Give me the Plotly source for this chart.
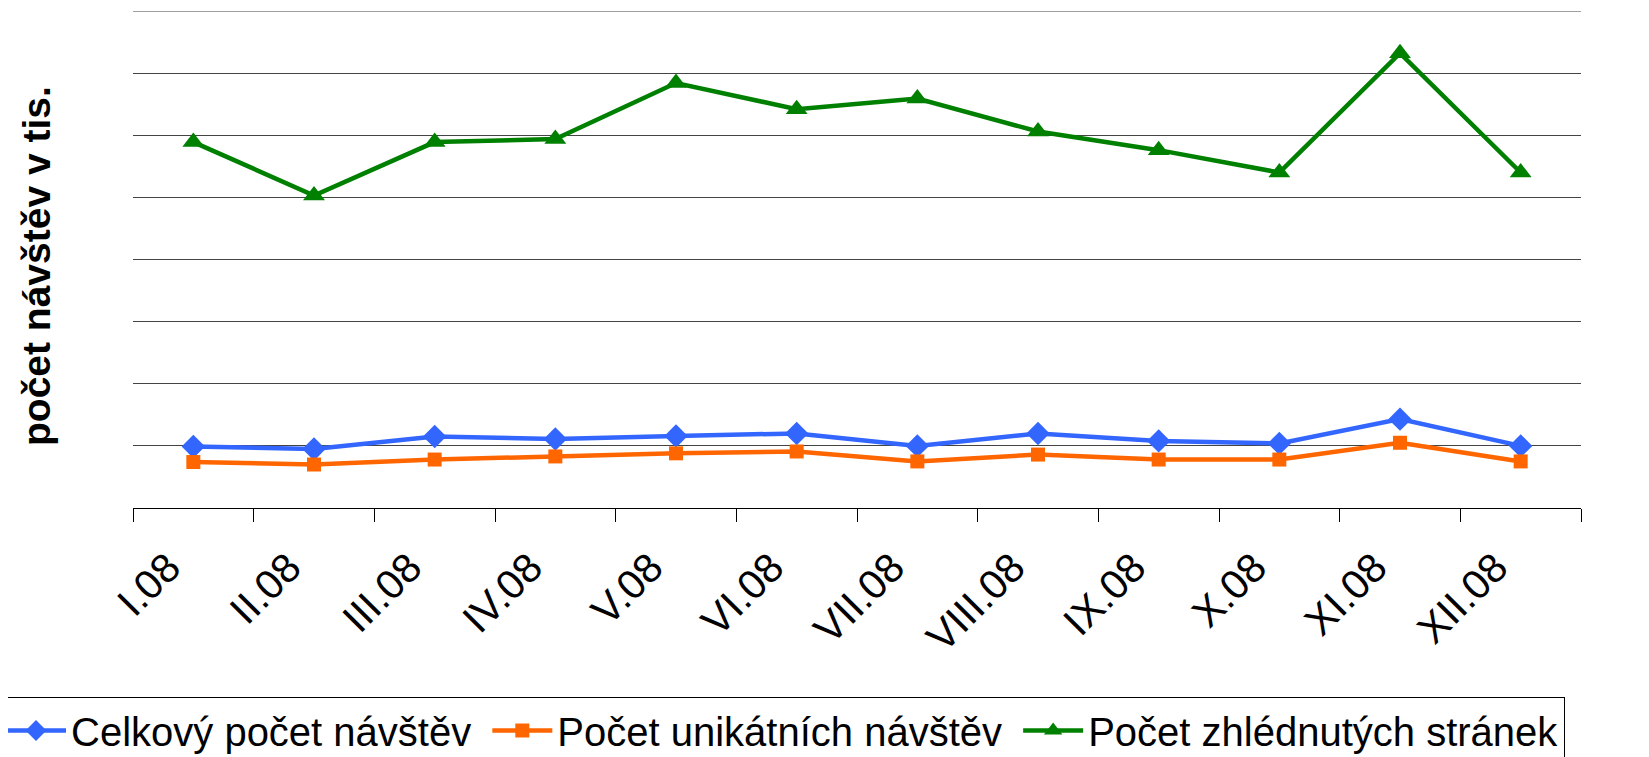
import plotly.graph_objects as go

months = ["I.08", "II.08", "III.08", "IV.08", "V.08", "VI.08", "VII.08",
          "VIII.08", "IX.08", "X.08", "XI.08", "XII.08"]
celkovy = [9.9, 9.5, 11.5, 11.1, 11.6, 12.0, 10.0, 12.0, 10.8, 10.4, 14.3, 10.0]
unikatni = [7.4, 7.0, 7.8, 8.3, 8.8, 9.1, 7.5, 8.6, 7.8, 7.8, 10.5, 7.5]
zhlednute = [58.9, 50.3, 58.9, 59.4, 68.4, 64.2, 65.9, 60.6, 57.6, 54.0, 73.2, 54.0]
series_names = ["Celkový počet návštěv", "Počet unikátních návštěv",
                "Počet zhlédnutých stránek"]
y_max = 80
y_step = 10

FONT = "Arial, Liberation Sans, sans-serif"
GAP = "\u00a0"  # extra spacing between legend entries

# page body has an 8px default margin; compensate so the plot lands where the reference is
OFF = 8
W, H = 1649 - OFF, 757 - OFF
L, T = 133 - OFF, 11 - OFF
R = W - (1581 - OFF)
B = H - (508 - OFF)
PW, PH = W - L - R, H - T - B

fig = go.Figure()
fig.add_trace(go.Scatter(x=months, y=celkovy, name=series_names[0] + GAP,
                         mode="lines+markers",
                         line=dict(color="#3366FF", width=4.5),
                         marker=dict(symbol="diamond", size=18, color="#3366FF")))
fig.add_trace(go.Scatter(x=months, y=unikatni, name=series_names[1] + GAP,
                         mode="lines+markers",
                         line=dict(color="#FF6600", width=4.5),
                         marker=dict(symbol="square", size=14, color="#FF6600")))
fig.add_trace(go.Scatter(x=months, y=zhlednute, name=series_names[2],
                         mode="lines+markers",
                         line=dict(color="#008000", width=4.5),
                         marker=dict(symbol="triangle-up", size=19, color="#008000")))

# top gridline (plotly omits the gridline at the range edge)
fig.add_shape(type="line", xref="paper", yref="y", x0=0, x1=1, y0=y_max, y1=y_max,
              line=dict(color="#444444", width=1), layer="below")

fig.update_layout(
    width=W, height=H,
    margin=dict(l=L, r=R, t=T, b=B, autoexpand=False),
    paper_bgcolor="white", plot_bgcolor="white",
    font=dict(family=FONT, color="black"),
    showlegend=True,
    legend=dict(orientation="h", xref="paper", yref="paper",
                x=(-OFF - L) / PW, xanchor="left",
                y=-((697 - OFF) - (T + PH)) / PH, yanchor="top",
                font=dict(size=40, family=FONT), bordercolor="black",
                borderwidth=1, bgcolor="white", itemwidth=60,
                tracegroupgap=0),
    xaxis=dict(type="category", tickson="boundaries", ticks="outside",
               range=[-0.5, len(months) - 0.5],
               ticklen=13, tickcolor="black", tickwidth=1,
               showline=True, linecolor="black", linewidth=1,
               showgrid=False, tickangle=-45, automargin=False,
               ticklabelstandoff=18, ticklabelshift=-25,
               tickfont=dict(size=41, family=FONT)),
    yaxis=dict(range=[0, y_max], dtick=y_step, showticklabels=False,
               showgrid=True, gridcolor="#444444", gridwidth=1,
               zeroline=False, showline=False, ticks="", automargin=False),
    annotations=[dict(text="<b>počet návštěv v tis.</b>", textangle=-90,
                      xref="paper", yref="paper", x=(36 - 133) / PW,
                      y=(508 - 266) / PH, xanchor="center", yanchor="middle",
                      showarrow=False, font=dict(size=39, family=FONT))],
)

fig.write_html("out.html")
